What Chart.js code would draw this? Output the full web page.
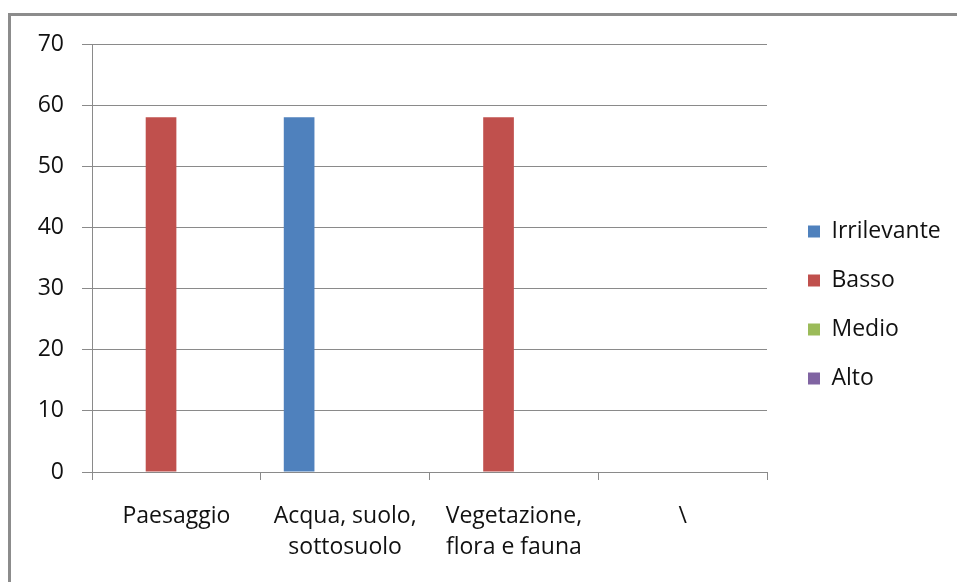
<!DOCTYPE html>
<html>
<head>
<meta charset="utf-8">
<script src="https://cdn.jsdelivr.net/npm/chart.js"></script>
<style>
  body { margin: 0; background: #fff; overflow: hidden; }
  #frame { position: absolute; left: 8px; top: 13px; width: 1000px; height: 700px; border-left: 3px solid #8c8c8c; border-top: 3px solid #8c8c8c; }
  #wrap { position: absolute; left: 0; top: 0; width: 957px; height: 582px; }
</style>
</head>
<body>
<div id="frame"></div>
<div id="wrap"><canvas id="chart1"></canvas></div>
<script>
const categories = [['Paesaggio'], ['Acqua, suolo,', 'sottosuolo'], ['Vegetazione,', 'flora e fauna'], ['\\']];
const irrilevante = [0, 58, 0, 0];
const basso = [58, 0, 58, 0];
const medio = [0, 0, 0, 0];
const alto = [0, 0, 0, 0];
const yMin = 0;
const yMax = 70;
const yStep = 10;

Chart.defaults.font.family = "'Open Sans', 'Noto Sans', sans-serif";
Chart.defaults.font.size = 23;
Chart.defaults.color = '#111';

const gridColor = '#8a8a8a';

// keep the legend column at a fixed width, and nudge it like the excel one
const legendFix = {
  id: 'legendFix',
  afterInit(chart) {
    var fit = chart.legend.fit;
    chart.legend.fit = function() {
      fit.call(this);
      this.width = 190;
    };
  },
  afterLayout(chart) {
    chart.legend.left += 15;
    chart.legend.right += 15;
    chart.legend.top -= 8;
    chart.legend.bottom -= 8;
  }
};

const ctx = document.getElementById('chart1');

const chart1 = new Chart(ctx, {
  type: 'bar',
  data: {
    labels: categories,
    datasets: [
      { label: 'Irrilevante', data: irrilevante, backgroundColor: '#4f81bd', borderWidth: 0 },
      { label: 'Basso', data: basso, backgroundColor: '#c0504d', borderWidth: 0 },
      { label: 'Medio', data: medio, backgroundColor: '#9bbb59', borderWidth: 0 },
      { label: 'Alto', data: alto, backgroundColor: '#8064a2', borderWidth: 0 }
    ]
  },
  options: {
    responsive: true,
    maintainAspectRatio: false,
    animation: false,
    datasets: {
      bar: { categoryPercentage: 0.727, barPercentage: 1 }
    },
    layout: { padding: { top: 44, left: 0, right: 0, bottom: 0 } },
    plugins: {
      legend: {
        position: 'right',
        labels: { boxWidth: 12, boxHeight: 12, padding: 26, color: '#111' }
      },
      tooltip: { enabled: false }
    },
    scales: {
      x: {
        grid: { display: true, drawOnChartArea: false, drawTicks: true, tickLength: 8, color: gridColor },
        border: { display: true, color: gridColor },
        ticks: { padding: 21, maxRotation: 0, autoSkip: false, font: { size: 23, lineHeight: 1.35 } },
        afterFit: function(scale) { scale.height = 110; }
      },
      y: {
        min: yMin,
        max: yMax,
        ticks: { stepSize: yStep, padding: 18 },
        grid: { color: gridColor, tickLength: 10 },
        border: { display: true, color: gridColor },
        afterFit: function(scale) { scale.width = 92; }
      }
    }
  },
  plugins: [legendFix]
});
</script>
</body>
</html>
